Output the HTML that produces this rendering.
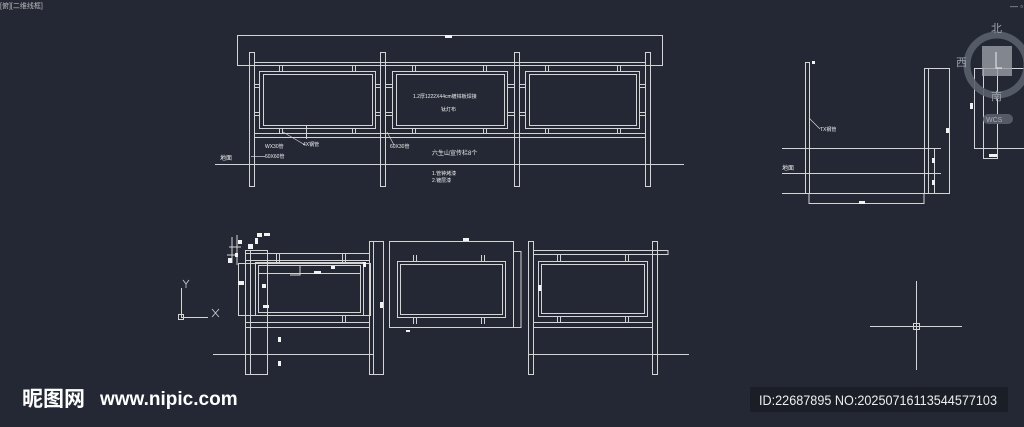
<!DOCTYPE html>
<html><head><meta charset="utf-8"><style>
html,body{margin:0;padding:0;background:#232834;}
svg{display:block}
text{font-family:"Liberation Sans","Noto Sans CJK SC",sans-serif;}
</style></head><body>
<svg width="1024" height="427" viewBox="0 0 1024 427" xmlns="http://www.w3.org/2000/svg">
<rect width="1024" height="427" fill="#232834"/>
<text x="0" y="8" font-size="7" fill="#bbb">[俯][二维线框]</text>
<text x="1010" y="9" font-size="8" fill="#bbb">— ▫</text>

<g fill="none" stroke="#d4d4d4" stroke-width="1">
<rect x="237.5" y="35.5" width="425" height="30"/>
<rect x="249.5" y="52.5" width="5" height="134"/>
<rect x="380.5" y="52.5" width="5" height="134"/>
<rect x="514.5" y="52.5" width="5" height="134"/>
<rect x="645.5" y="52.5" width="5" height="134"/>
<line x1="254" y1="62.5" x2="645" y2="62.5"/><line x1="254" y1="65.5" x2="645" y2="65.5"/>
<line x1="254" y1="133.5" x2="645" y2="133.5"/><line x1="254" y1="137.5" x2="645" y2="137.5"/>
<rect x="259.5" y="71.5" width="116" height="57"/><rect x="263.5" y="74.5" width="109" height="51"/>
<rect x="392.5" y="71.5" width="115" height="57"/><rect x="396.5" y="74.5" width="108" height="51"/>
<rect x="525.5" y="71.5" width="114" height="57"/><rect x="529.5" y="74.5" width="107" height="51"/>
<path d="M279.5 65v6M282.5 65v6M352.5 65v6M355.5 65v6M279.5 128v5M282.5 128v5M352.5 128v5M355.5 128v5
M412.5 65v6M415.5 65v6M483.5 65v6M486.5 65v6M412.5 128v5M415.5 128v5M483.5 128v5M486.5 128v5
M545.5 65v6M548.5 65v6M617.5 65v6M620.5 65v6M545.5 128v5M548.5 128v5M617.5 128v5M620.5 128v5"/>
<path d="M254 84.5h5M254 87.5h5M254 112.5h5M254 115.5h5M375 84.5h5M375 87.5h5M375 112.5h5M375 115.5h5
M385 84.5h7M385 87.5h7M385 112.5h7M385 115.5h7M507 84.5h7M507 87.5h7M507 112.5h7M507 115.5h7
M519 84.5h6M519 87.5h6M519 112.5h6M519 115.5h6M639 84.5h6M639 87.5h6M639 112.5h6M639 115.5h6"/>
<line x1="215" y1="164.5" x2="684" y2="164.5"/>
<line x1="306.5" y1="126" x2="306.5" y2="139"/>
<line x1="283" y1="132" x2="305" y2="145" stroke-width="0.7"/>
<line x1="387" y1="132" x2="394" y2="145" stroke-width="0.7"/>
<line x1="251" y1="156.5" x2="265" y2="156.5" stroke-width="0.7"/>

<rect x="245.5" y="250.5" width="22" height="124"/>
<line x1="250.5" y1="250" x2="250.5" y2="374"/>
<line x1="245" y1="253.5" x2="370" y2="253.5"/>
<line x1="245" y1="260.5" x2="370" y2="260.5"/>
<line x1="245" y1="322.5" x2="370" y2="322.5"/><line x1="245" y1="327.5" x2="370" y2="327.5"/>
<rect x="238.5" y="263.5" width="132" height="52"/>
<rect x="255.5" y="262.5" width="108" height="53"/><rect x="258.5" y="265.5" width="102" height="47"/>
<line x1="258" y1="273.5" x2="360" y2="273.5"/>
<rect x="369.5" y="241.5" width="14" height="133"/><line x1="373.5" y1="241" x2="373.5" y2="374"/>
<rect x="389.5" y="241.5" width="124" height="86"/>
<rect x="397.5" y="261.5" width="108" height="56"/><rect x="400.5" y="264.5" width="102" height="50"/>
<path d="M513 251.5h8v76h-8"/>
<rect x="528.5" y="241.5" width="5" height="133"/>
<rect x="652.5" y="241.5" width="5" height="133"/>
<path d="M533 250.5h135v4h-135M533 322.5h120M533 327.5h120"/>
<rect x="538.5" y="261.5" width="109" height="55"/><rect x="541.5" y="264.5" width="103" height="49"/>
<path d="M413.5 255v6M416.5 255v6M481.5 255v6M484.5 255v6M413.5 318v6M416.5 318v6M481.5 318v6M484.5 318v6
M557.5 254v7M560.5 254v7M625.5 254v7M628.5 254v7M557.5 317v6M560.5 317v6M625.5 317v6M628.5 317v6
M276.5 254v9M279.5 254v9M342.5 254v9M345.5 254v9M342.5 316v7M345.5 316v7"/>
<line x1="213" y1="354.5" x2="374" y2="354.5"/>
<line x1="528" y1="354.5" x2="689" y2="354.5"/>
<path d="M232 237v26M237 235v30M229 247h12M227 255h9M300 265v10h-10"/>
<path d="M181.5 288v30M181 317.5h27"/>
<rect x="178.5" y="314.5" width="5" height="5"/>
<path d="M212 309l7 8M219 309l-7 8M183 280l3 4M189 280l-3 4M186 284v4" stroke-width="0.8"/>
<path d="M870 326.5h92M916.5 281v89"/><rect x="913.5" y="323.5" width="6" height="6"/>

<rect x="805.5" y="62.5" width="4" height="131"/>
<path d="M809 193.5v10h115v-10"/>
<rect x="924.5" y="68.5" width="4" height="125"/>
<rect x="928.5" y="68.5" width="21" height="125"/>
<path d="M782 148.5h159M782 173.5h159M782 193.5h168"/>
<path d="M934.5 148v45" />
<line x1="809" y1="118" x2="820" y2="129" stroke-width="0.7"/>
<rect x="974.5" y="68.5" width="60" height="80"/>
<rect x="983.5" y="68.5" width="14" height="90"/>
</g>

<g fill="#f2f2f2">
<rect x="445" y="35" width="7" height="3"/>
<rect x="859" y="201" width="6" height="3"/>
<rect x="932" y="158" width="3" height="5"/><rect x="932" y="180" width="3" height="5"/>
<rect x="970" y="103" width="3" height="6"/><rect x="989" y="154" width="8" height="3"/>
<rect x="946" y="128" width="3" height="5"/>
<rect x="463" y="238" width="6" height="3"/>
<rect x="538" y="285" width="3" height="6"/>
<rect x="380" y="302" width="3" height="6"/>
<rect x="406" y="330" width="4" height="2"/>
<rect x="314" y="271" width="7" height="3"/><rect x="263" y="305" width="6" height="3"/>
<rect x="262" y="284" width="4" height="4"/><rect x="278" y="337" width="3" height="5"/><rect x="278" y="361" width="3" height="5"/>
<rect x="238" y="281" width="6" height="4"/><rect x="248" y="244" width="5" height="5"/>
<rect x="257" y="233" width="5" height="4"/><rect x="238" y="240" width="4" height="4"/>
<rect x="255" y="238" width="3" height="6"/><rect x="264" y="233" width="6" height="3"/>
<rect x="228" y="258" width="4" height="5"/><rect x="235" y="253" width="3" height="4"/>
<rect x="331" y="266" width="4" height="3"/><rect x="363" y="262" width="3" height="5"/>
<rect x="812" y="61" width="3" height="3"/>
</g>

<g fill="#eee" font-size="5">
<text x="413" y="98">1.2厚1222X44cm镀锌板焊接</text>
<text x="441" y="111">钛灯布</text>
<text x="432" y="155" font-size="6">六生山宣传栏8个</text>
<text x="432" y="175">1.管钟烤漆</text>
<text x="432" y="182">2.镀层漆</text>
<text x="220" y="160" font-size="6">地面</text>
<text x="265" y="148">WX30管</text>
<text x="265" y="158">60X60管</text>
<text x="303" y="146">4X钢管</text>
<text x="390" y="148">60X30管</text>
<text x="782" y="170" font-size="6">地面</text>
<text x="820" y="131">TX钢管</text>
</g>

<circle cx="997" cy="65" r="30" fill="none" stroke="#5a606b" stroke-width="7" opacity="0.9"/>
<rect x="982" y="46" width="30" height="30" fill="#9a9ea6" opacity="0.8"/>
<path d="M996 52v16h6" stroke="#eee" fill="none"/>
<rect x="983" y="114" width="30" height="10" rx="5" fill="#555b66"/>
<text x="986" y="122" font-size="7" fill="#aab">WCS</text>
<g fill="#9ea3aa" font-size="11">
<text x="991" y="32">北</text><text x="956" y="66">西</text><text x="991" y="100">南</text>
</g>

<text x="22" y="406" font-size="21" font-weight="bold" fill="#fff">昵图网</text>
<text x="100" y="405" font-size="19" font-weight="bold" fill="#fff">www.nipic.com</text>
<rect x="750" y="387" width="258" height="25" fill="#1a1e26"/>
<text x="759" y="405" font-size="14" fill="#eee" textLength="238" lengthAdjust="spacingAndGlyphs">ID:22687895 NO:20250716113544577103</text>
</svg>
</body></html>
